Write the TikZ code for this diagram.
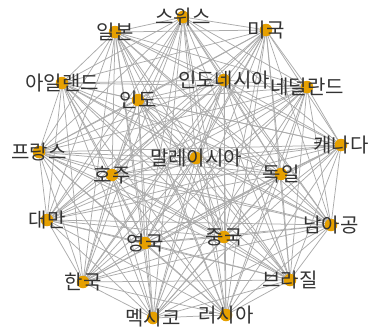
\documentclass[tikz,border=0pt]{standalone}
\usepackage{fontspec}
\newfontfamily\krfont{Noto Sans CJK KR}
\definecolor{nodeorange}{HTML}{E6A000}
\definecolor{edgegray}{HTML}{ABABAB}

\begin{document}
\begin{tikzpicture}[
  x=1pt, y=-1pt,
  dot/.style={circle, fill=nodeorange, inner sep=0pt, minimum size=12.5pt},
  lbl/.style={inner sep=0pt, text=black!80, font=\krfont\fontsize{20}{20}\selectfont},
  link/.style={draw=edgegray, line width=0.75pt}
]
  \useasboundingbox (0,0) rectangle (374,330);
  % positions of the countries
  \foreach \n/\x/\y in {swiss/183/17, japan/115/32, usa/266/30, ireland/62/83,
    india/138/100, indonesia/224/80, netherlands/307/87, france/39/152,
    malaysia/196/158, canada/341/145, australia/112/175, germany/281/174,
    taiwan/47/220, safrica/331/225, uk/145/243, china/224/237,
    korea/83/282, brazil/290/280, mexico/153/318, russia/226/315}
    \coordinate (\n) at (\x,\y);
  % every pair is linked
  \foreach \a [count=\i] in {swiss, japan, usa, ireland, india, indonesia, netherlands,
    france, malaysia, canada, australia, germany, taiwan, safrica, uk, china,
    korea, brazil, mexico, russia}
    \foreach \b [count=\j] in {swiss, japan, usa, ireland, india, indonesia, netherlands,
      france, malaysia, canada, australia, germany, taiwan, safrica, uk, china,
      korea, brazil, mexico, russia}
      {\ifnum\i<\j \draw[link] (\a) -- (\b); \fi}
  % dots and names
  \foreach \n/\t in {swiss/스위스, japan/일본, usa/미국, ireland/아일랜드,
    india/인도, indonesia/인도네시아, netherlands/네덜란드, france/프랑스,
    malaysia/말레이시아, canada/캐나다, australia/호주, germany/독일,
    taiwan/대만, safrica/남아공, uk/영국, china/중국,
    korea/한국, brazil/브라질, mexico/멕시코, russia/러시아}
  {
    \node[dot] (\n-dot) at (\n) {};
    \node[lbl] (\n-lbl) at (\n) {\t};
  }
\end{tikzpicture}
\end{document}
